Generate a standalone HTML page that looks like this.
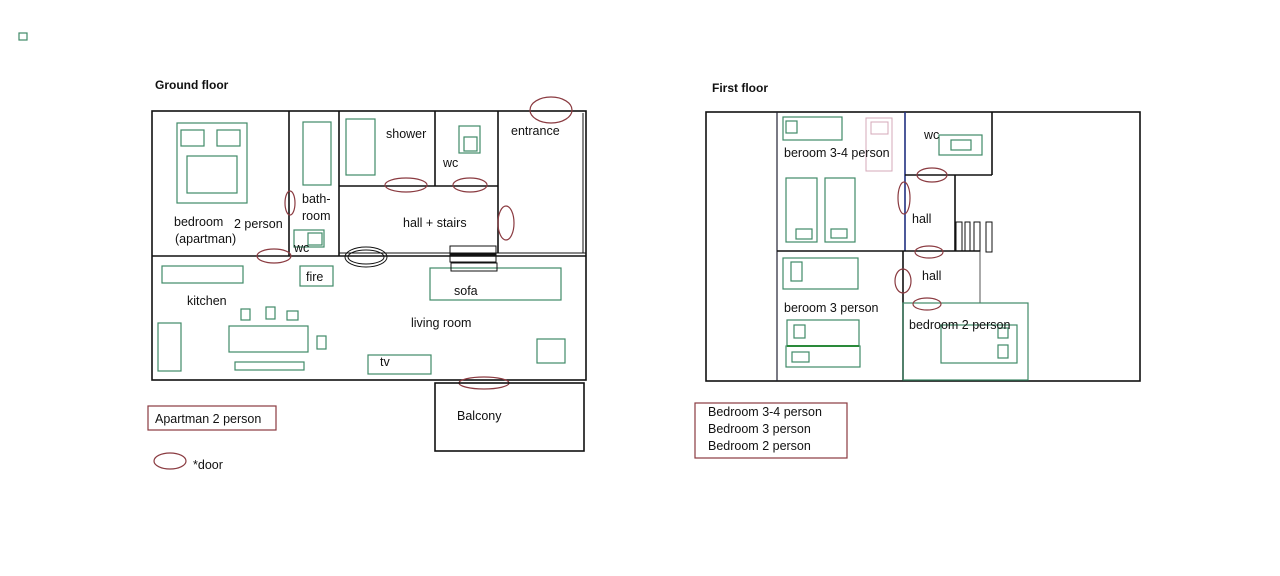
<!DOCTYPE html>
<html><head><meta charset="utf-8"><style>
html,body{margin:0;padding:0;background:#fff;width:1280px;height:576px;overflow:hidden}
svg{display:block}
text{font-family:"Liberation Sans",sans-serif;font-size:12.5px;fill:#111}
.w{stroke:#111;stroke-width:1.6;fill:none}
.g{stroke:#3f8a68;stroke-width:1.2;fill:none}
.d{stroke:#8a3a40;stroke-width:1.2;fill:none}
.k{stroke:#111;stroke-width:1;fill:none}
</style></head><body>
<svg width="1280" height="576" viewBox="0 0 1280 576" xmlns="http://www.w3.org/2000/svg">
<rect x="19" y="33" width="8" height="7" class="g"/>
<text x="155" y="89" style="font-weight:bold;font-size:12px">Ground floor</text>
<text x="712" y="92" style="font-weight:bold;font-size:12px">First floor</text>

<!-- Ground floor walls -->
<rect x="152" y="111" width="434" height="269" class="w"/>
<line x1="152" y1="256" x2="586" y2="256" class="w"/>
<line x1="339" y1="253" x2="586" y2="253" class="k"/>
<line x1="289" y1="111" x2="289" y2="256" class="w"/>
<line x1="339" y1="111" x2="339" y2="256" class="w"/>
<line x1="339" y1="186" x2="498" y2="186" class="w"/>
<line x1="435" y1="111" x2="435" y2="186" class="w"/>
<line x1="498" y1="111" x2="498" y2="253" class="w"/>
<line x1="583" y1="113" x2="583" y2="253" class="k"/>
<!-- furniture -->
<rect x="177" y="123" width="70" height="80" class="g"/>
<rect x="181" y="130" width="23" height="16" class="g"/>
<rect x="217" y="130" width="23" height="16" class="g"/>
<rect x="187" y="156" width="50" height="37" class="g"/>
<rect x="303" y="122" width="28" height="63" class="g"/>
<rect x="294" y="230" width="30" height="17" class="g"/>
<rect x="308" y="233" width="14" height="12" class="g"/>
<rect x="346" y="119" width="29" height="56" class="g"/>
<rect x="459" y="126" width="21" height="27" class="g"/>
<rect x="464" y="137" width="13" height="14" class="g"/>
<rect x="162" y="266" width="81" height="17" class="g"/>
<rect x="300" y="266" width="33" height="20" class="g"/>
<rect x="229" y="326" width="79" height="26" class="g"/>
<rect x="241" y="309" width="9" height="11" class="g"/>
<rect x="266" y="307" width="9" height="12" class="g"/>
<rect x="287" y="311" width="11" height="9" class="g"/>
<rect x="317" y="336" width="9" height="13" class="g"/>
<rect x="235" y="362" width="69" height="8" class="g"/>
<rect x="158" y="323" width="23" height="48" class="g"/>
<rect x="430" y="268" width="131" height="32" class="g"/>
<rect x="368" y="355" width="63" height="19" class="g"/>
<rect x="537" y="339" width="28" height="24" class="g"/>
<rect x="450" y="246" width="46" height="8" class="k"/>
<rect x="450" y="255" width="46" height="7" class="k"/>
<rect x="451" y="263" width="46" height="8" class="k"/>
<!-- doors -->
<ellipse cx="551" cy="110" rx="21" ry="13" class="d"/>
<ellipse cx="406" cy="185" rx="21" ry="7" class="d"/>
<ellipse cx="470" cy="185" rx="17" ry="7" class="d"/>
<ellipse cx="290" cy="203" rx="5" ry="12" class="d"/>
<ellipse cx="506" cy="223" rx="8" ry="17" class="d"/>
<ellipse cx="274" cy="256" rx="17" ry="7" class="d"/>
<ellipse cx="366" cy="257" rx="21" ry="10" class="k"/>
<ellipse cx="366" cy="257" rx="18" ry="7" class="k"/>
<ellipse cx="484" cy="383" rx="25" ry="6" class="d"/>
<!-- labels -->
<text x="386" y="138">shower</text>
<text x="443" y="167">wc</text>
<text x="511" y="135">entrance</text>
<text x="302" y="203">bath-</text>
<text x="302" y="220">room</text>
<text x="174" y="226">bedroom</text>
<text x="234" y="228">2 person</text>
<text x="175" y="243">(apartman)</text>
<text x="294" y="252">wc</text>
<text x="403" y="227">hall + stairs</text>
<text x="306" y="281">fire</text>
<text x="187" y="305">kitchen</text>
<text x="454" y="295">sofa</text>
<text x="411" y="327">living room</text>
<text x="380" y="366">tv</text>
<rect x="435" y="383" width="149" height="68" class="w"/>
<text x="457" y="420">Balcony</text>
<rect x="148" y="406" width="128" height="24" class="d"/>
<text x="155" y="423">Apartman 2 person</text>
<ellipse cx="170" cy="461" rx="16" ry="8" class="d"/>
<text x="193" y="469">*door</text>

<!-- First floor -->
<rect x="706" y="112" width="434" height="269" class="w"/>
<line x1="777" y1="112" x2="777" y2="381" style="stroke:#223;stroke-width:1.2"/>
<line x1="905" y1="112" x2="905" y2="251" style="stroke:#223080;stroke-width:1.6"/>
<line x1="777" y1="251" x2="980" y2="251" class="w"/>
<line x1="905" y1="175" x2="992" y2="175" class="w"/>
<line x1="992" y1="112" x2="992" y2="175" class="w"/>
<line x1="955" y1="175" x2="955" y2="251" class="w"/>
<line x1="903" y1="251" x2="903" y2="381" class="w"/>
<line x1="980" y1="251" x2="980" y2="303" style="stroke:#555;stroke-width:1"/>
<rect x="903" y="303" width="125" height="77" class="g"/>
<rect x="956" y="222" width="6" height="29" class="k"/>
<rect x="965" y="222" width="5" height="29" class="k"/>
<rect x="974" y="222" width="6" height="29" class="k"/>
<rect x="986" y="222" width="6" height="30" class="k"/>
<rect x="783" y="117" width="59" height="23" class="g"/>
<rect x="786" y="121" width="11" height="12" class="g"/>
<rect x="866" y="118" width="26" height="53" style="stroke:#d4a8b8;fill:none"/>
<rect x="871" y="122" width="17" height="12" style="stroke:#d4a8b8;fill:none"/>
<rect x="786" y="178" width="31" height="64" class="g"/>
<rect x="796" y="229" width="16" height="10" class="g"/>
<rect x="825" y="178" width="30" height="64" class="g"/>
<rect x="831" y="229" width="16" height="9" class="g"/>
<rect x="939" y="135" width="43" height="20" class="g"/>
<rect x="951" y="140" width="20" height="10" class="g"/>
<rect x="783" y="258" width="75" height="31" class="g"/>
<rect x="791" y="262" width="11" height="19" class="g"/>
<rect x="787" y="320" width="72" height="26" class="g"/>
<rect x="794" y="325" width="11" height="13" class="g"/>
<rect x="786" y="346" width="74" height="21" class="g"/>
<rect x="792" y="352" width="17" height="10" class="g"/>
<line x1="787" y1="346" x2="859" y2="346" style="stroke:#2a8a3a;stroke-width:2"/>
<rect x="941" y="325" width="76" height="38" class="g"/>
<rect x="998" y="328" width="10" height="10" class="g"/>
<rect x="998" y="345" width="10" height="13" class="g"/>
<ellipse cx="932" cy="175" rx="15" ry="7" class="d"/>
<ellipse cx="904" cy="198" rx="6" ry="16" class="d"/>
<ellipse cx="929" cy="252" rx="14" ry="6" class="d"/>
<ellipse cx="903" cy="281" rx="8" ry="12" class="d"/>
<ellipse cx="927" cy="304" rx="14" ry="6" class="d"/>
<text x="924" y="139">wc</text>
<text x="784" y="157">beroom 3-4 person</text>
<text x="912" y="223">hall</text>
<text x="922" y="280">hall</text>
<text x="784" y="312">beroom  3 person</text>
<text x="909" y="329">bedroom 2 person</text>
<rect x="695" y="403" width="152" height="55" class="d"/>
<text x="708" y="416">Bedroom 3-4 person</text>
<text x="708" y="433">Bedroom 3 person</text>
<text x="708" y="450">Bedroom 2 person</text>
</svg>
</body></html>
